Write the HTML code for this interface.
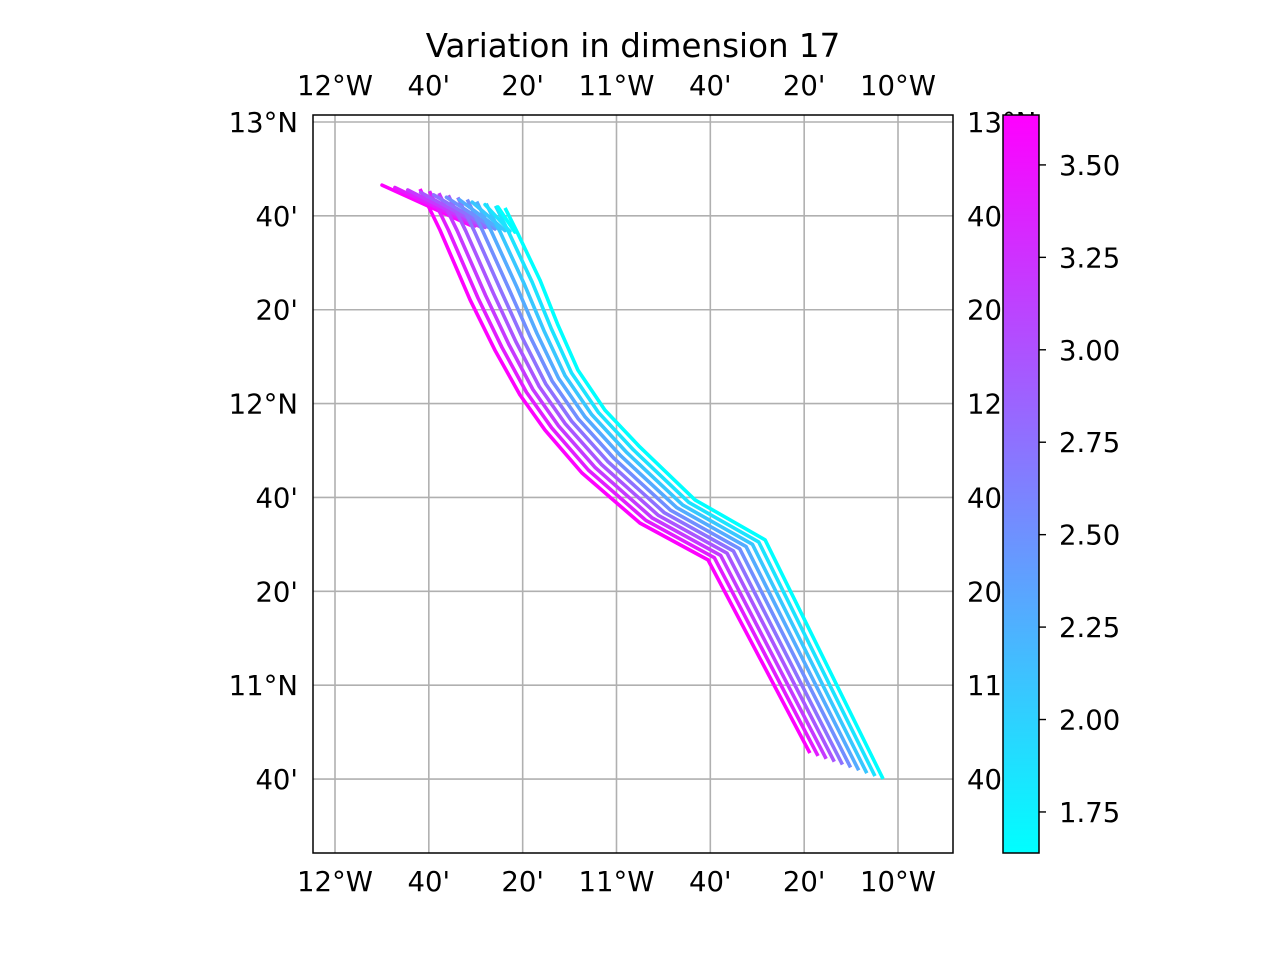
<!DOCTYPE html>
<html><head><meta charset="utf-8"><style>body{margin:0;background:#fff}svg{display:block;font-family:"DejaVu Sans","Liberation Sans",sans-serif}</style></head>
<body>
<svg id="chart" width="1280" height="960" viewBox="0 0 1280 960">
<defs><linearGradient id="cb" x1="0" y1="1" x2="0" y2="0"><stop offset="0" stop-color="#00ffff"/><stop offset="1" stop-color="#ff00ff"/></linearGradient>
<clipPath id="clip"><rect x="313" y="115" width="640" height="738"/></clipPath></defs>
<text x="633" y="57" font-size="32.5" text-anchor="middle">Variation in dimension 17</text>
<g id="grid"></g>
<g id="tracks" clip-path="url(#clip)"></g>
<rect x="313" y="115" width="640" height="738" fill="none" stroke="#000" stroke-width="1.5"/>
<g id="labels" font-size="27.5"></g>
<rect x="1003" y="115" width="36" height="738" fill="url(#cb)" stroke="#000" stroke-width="1.5"/>
<g id="cbticks" font-size="27.5"></g>
</svg>
<script>
const lonTicks=[-12,-11.6667,-11.3333,-11,-10.6667,-10.3333,-10];
const lonLabels=["12°W","40'","20'","11°W","40'","20'","10°W"];
const latTicks=[13,12.6667,12.3333,12,11.6667,11.3333,11,10.6667];
const latLabels=["13°N","40'","20'","12°N","40'","20'","11°N","40'"];
const cbTicks=[1.75,2.0,2.25,2.5,2.75,3.0,3.25,3.5];
const trackValues=[3.63,3.41,3.19,2.97,2.75,2.52,2.30,2.08,1.86,1.64];
const magMainLon=[-11.698,-11.627,-11.520,-11.432,-11.343,-11.254,-11.123,-10.917,-10.675,-10.313];
const magMainLat=[12.762,12.616,12.368,12.190,12.031,11.906,11.754,11.576,11.445,10.759];
const cyanMainLon=[-11.396,-11.353,-11.272,-11.208,-11.137,-11.041,-10.917,-10.721,-10.472,-10.053];
const cyanMainLat=[12.695,12.609,12.439,12.279,12.119,11.977,11.846,11.658,11.516,10.667];
const magFanLon=[-11.833,-11.520], magFanLat=[12.776,12.634];
const cyanFanLon=[-11.421,-11.361], cyanFanLat=[12.698,12.609];
const vmin=1.639, vmax=3.635;
const X=lon=>335+(lon+12)*281.5;
const Y=lat=>122+(13-lat)*281.6;
const CY=v=>853-(v-vmin)/(vmax-vmin)*738;
const NS='http://www.w3.org/2000/svg';
function mk(t,a,p){const e=document.createElementNS(NS,t);for(const k in a)e.setAttribute(k,a[k]);p.appendChild(e);return e;}
const grid=document.getElementById('grid'),lab=document.getElementById('labels');
lonTicks.forEach((l,i)=>{const x=X(l);
 const g=mk('line',{x1:x,x2:x,y1:115,y2:853,stroke:'#b0b0b0','stroke-width':1.6},grid);
 
 [95,891].forEach(y=>{const t=mk('text',{x:x,y:y,'text-anchor':'middle'},lab);t.textContent=lonLabels[i];
 });});
latTicks.forEach((l,i)=>{const y=Y(l);
 const g=mk('line',{x1:313,x2:953,y1:y,y2:y,stroke:'#b0b0b0','stroke-width':1.6},grid);
 
 const t=mk('text',{x:298,y:y+10,'text-anchor':'end'},lab);t.textContent=latLabels[i];
 
 const t2=mk('text',{x:967,y:y+10},lab);t2.textContent=latLabels[i];
 });
function col(v){const f=(v-vmin)/(vmax-vmin);return `rgb(${Math.round(255*f)},${Math.round(255*(1-f))},255)`;}
const tr=document.getElementById('tracks');
trackValues.forEach((v,i)=>{const f=i/(trackValues.length-1);const c=col(v);
 const mix=(a,b)=>a.map((p,k)=>p*(1-f)+b[k]*f);
 const ml=mix(magMainLon,cyanMainLon),mt=mix(magMainLat,cyanMainLat);
 const fl=mix(magFanLon,cyanFanLon),ft=mix(magFanLat,cyanFanLat);
 const p1=mk('polyline',{points:fl.map((l,k)=>X(l)+','+Y(ft[k])).join(' '),fill:'none',stroke:c,'stroke-width':3.6,'stroke-linecap':'round'},tr);
 
 const p=mk('polyline',{points:ml.map((l,k)=>X(l)+','+Y(mt[k])).join(' '),fill:'none',stroke:c,'stroke-width':3.6,'stroke-linejoin':'round'},tr);
 });
const cbt=document.getElementById('cbticks');
cbTicks.forEach(v=>{const y=CY(v);
 const l=mk('line',{x1:1039,x2:1046,y1:y,y2:y,stroke:'#000','stroke-width':1.4},cbt);
 
 const t=mk('text',{x:1059,y:y+10},cbt);t.textContent=v.toFixed(2);
 });
</script>
</body></html>
